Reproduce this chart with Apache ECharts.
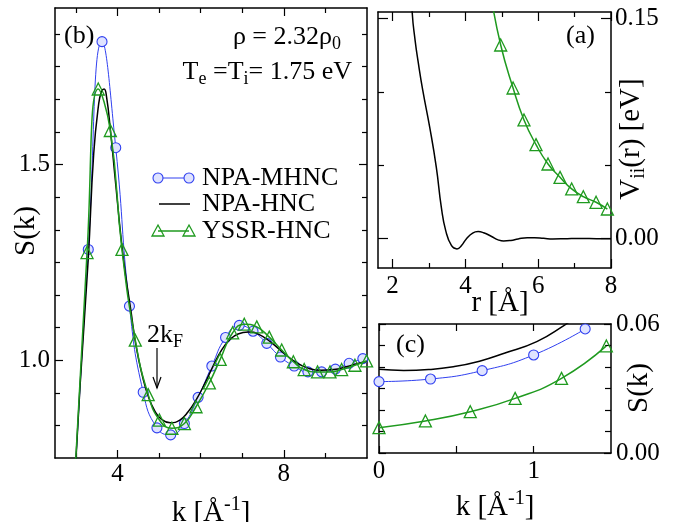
<!DOCTYPE html>
<html><head><meta charset="utf-8">
<script src="https://cdn.jsdelivr.net/npm/echarts@6/dist/echarts.min.js"></script>
<style>html,body{margin:0;padding:0;background:#fff}#c{width:690px;height:522px}</style>
</head><body><div id="c"></div>
<script>
// ---------- Panel (b): S(k) ----------
const kMHNC = [2.97,3.30,3.63,3.96,4.29,4.62,4.95,5.28,5.61,5.94,6.27,6.60,6.93,7.26,7.59,7.92,8.25,8.58,8.91,9.24,9.57,9.90];
const sMHNC = [0.68,1.283,1.814,1.543,1.138,0.918,0.827,0.809,0.838,0.905,0.985,1.058,1.089,1.074,1.043,1.008,0.985,0.970,0.970,0.977,0.992,1.004];
const kHNC = [2.90,3.10,3.30,3.43,3.55,3.62,3.68,3.74,3.83,3.95,4.10,4.20,4.32,4.45,4.60,4.75,4.90,5.05,5.27,5.50,5.70,5.90,6.10,6.30,6.50,6.70,6.90,7.15,7.40,7.70,8.00,8.30,8.60,8.90,9.20,9.50,9.80,10.0];
const sHNC = [0.55,0.93,1.26,1.527,1.655,1.687,1.693,1.672,1.59,1.46,1.30,1.215,1.13,1.035,0.96,0.905,0.87,0.85,0.84,0.847,0.868,0.90,0.94,0.985,1.025,1.052,1.067,1.072,1.066,1.045,1.018,0.994,0.979,0.974,0.976,0.983,0.992,0.997];
const kYSSR = [2.98,3.27,3.54,3.83,4.11,4.43,4.74,5.01,5.31,5.61,5.89,6.21,6.47,6.77,7.05,7.35,7.65,7.95,8.23,8.49,8.81,9.11,9.39,9.71,9.99];
const sYSSR = [0.71,1.275,1.693,1.587,1.283,1.051,0.912,0.847,0.826,0.838,0.881,0.942,1.002,1.070,1.092,1.085,1.059,1.026,0.996,0.976,0.970,0.970,0.976,0.987,0.998];
// ---------- Panel (a): V_ii(r) ----------
const rNPA = [2.48,2.54,2.62,2.70,2.83,3.02,3.20,3.34,3.46,3.62,3.77,3.90,4.03,4.20,4.35,4.50,4.72,4.90,5.05,5.25,5.45,5.70,5.90,6.15,6.40,6.80,7.20,7.60,8.00];
const vNPA = [0.19,0.154,0.135,0.121,0.101,0.076,0.049,0.0213,0.0055,-0.0048,-0.0070,-0.0045,0.0,0.0038,0.0048,0.0040,0.0015,-0.0008,-0.0016,-0.0012,-0.0002,0.0006,0.0006,0.0002,-0.0002,0.0,0.0001,0.0,0.0];
const rYSSR = [4.70,4.97,5.31,5.61,5.94,6.27,6.60,6.92,7.24,7.59,7.90];
const vYSSR = [0.166,0.132,0.1027,0.0809,0.0641,0.0509,0.0418,0.0339,0.0286,0.0248,0.0202];
// ---------- Panel (c): small-k S(k) ----------
const kcHNC = [0,0.16,0.32,0.48,0.65,0.81,1.02,1.20,1.30];
const scHNC = [0.0389,0.0384,0.0388,0.0401,0.0427,0.0464,0.0518,0.0595,0.0645];
const kcMHNC = [0,0.333,0.667,1.0,1.333];
const scMHNC = [0.0332,0.0344,0.0383,0.0456,0.0577];
const kcYSSR = [0,0.30,0.59,0.88,1.18,1.47];
const scYSSR = [0.0118,0.0149,0.0192,0.0254,0.0347,0.0498];
// ---------- Tick labels ----------
const bXTicks = [4,8], bXMinor = [3,5,6,7,9];
const bYTicks = [1.0,1.5], bYMinor = [0.8333,0.9167,1.0833,1.1667,1.25,1.3333,1.4167,1.5833,1.6667,1.75,1.8333];
const aXTicks = [2,4,6,8], aXMinor = [3,5,7];
const aYTicks = [0,0.15], aYMinor = [0.05,0.10];
const cXTicks = [0,1], cXMinor = [0.5];
const cYTicks = [0,0.06], cYMinor = [0.01,0.02,0.03,0.04,0.05];
const seriesNames = ['NPA-MHNC','NPA-HNC','YSSR-HNC'];

const FONT = '"Liberation Serif", "Times New Roman", Times, serif';
const BLUE = '#3040f0', GREEN = '#1f9a1f', BLACK = '#000';
const zip = (a,b) => a.map((v,i)=>[v,b[i]]);

function pair(grid, pos, min, max, majors, minors, showLabel, fmt, margin, majLen, minLen) {
  const common = {type:'value', gridIndex:grid, position:pos, min, max, splitLine:{show:false}, silent:true};
  return [
    Object.assign({}, common, {
      axisLine:{show:true, onZero:false, lineStyle:{color:'#000', width:1.5}},
      axisTick:{show:true, inside:true, length:majLen, customValues:majors, lineStyle:{color:'#000', width:1.2}},
      axisLabel:{show:showLabel, customValues:majors, margin:margin, formatter:fmt, color:'#000', fontFamily:FONT, fontSize:25}
    }),
    Object.assign({}, common, {
      axisLine:{show:false, onZero:false},
      axisTick:{show:true, inside:true, length:minLen, customValues:minors, lineStyle:{color:'#000', width:1.2}},
      axisLabel:{show:false}
    })
  ];
}
const f0 = v => String(Math.round(v));
const f1 = v => v.toFixed(1);
const f2 = v => v.toFixed(2);

const xAxis = [].concat(
  pair(0,'bottom',2.5,10,bXTicks,bXMinor,true,f0,4,8,5),   // 0,1
  pair(0,'top',2.5,10,bXTicks,bXMinor,false,f0,4,8,5),     // 2,3
  pair(1,'bottom',1.6,8,aXTicks,aXMinor,true,f0,6,9,5),    // 4,5
  pair(1,'top',1.6,8,aXTicks,aXMinor,false,f0,6,9,5),      // 6,7
  pair(2,'bottom',0,1.5,cXTicks,cXMinor,true,f0,6,7,7),    // 8,9
  pair(2,'top',0,1.5,cXTicks,cXMinor,false,f0,6,7,7)       // 10,11
);
const yAxis = [].concat(
  pair(0,'left',0.75,1.9,bYTicks,bYMinor,true,f1,5,8,5),       // 0,1
  pair(0,'right',0.75,1.9,bYTicks,bYMinor,false,f1,5,8,5),     // 2,3
  pair(1,'right',-0.02,0.1545,aYTicks,aYMinor,true,f2,4,10,6), // 4,5
  pair(1,'left',-0.02,0.1545,aYTicks,aYMinor,false,f2,4,10,6), // 6,7
  pair(2,'right',0,0.06,cYTicks,cYMinor,true,f2,5,7,6),        // 8,9
  pair(2,'left',0,0.06,cYTicks,cYMinor,false,f2,5,7,6)         // 10,11
);

function circles(name, xi, yi, data, z) {
  return {type:'line', name, xAxisIndex:xi, yAxisIndex:yi, data, smooth:true, symbol:'circle', symbolSize:10, showSymbol:true,
    itemStyle:{color:'#dfe3ff', borderColor:BLUE, borderWidth:1.1}, lineStyle:{color:BLUE, width:1}, z, silent:true};
}
function plain(name, xi, yi, data, z) {
  return {type:'line', name, xAxisIndex:xi, yAxisIndex:yi, data, smooth:true, symbol:'none', showSymbol:false,
    lineStyle:{color:BLACK, width:1.5}, z, silent:true};
}
function tris(name, xi, yi, data, z) {
  return {type:'line', name, xAxisIndex:xi, yAxisIndex:yi, data, smooth:true, symbol:'triangle', symbolSize:12, showSymbol:true,
    itemStyle:{color:'rgba(255,255,255,0)', borderColor:GREEN, borderWidth:1.3}, lineStyle:{color:GREEN, width:1.5}, z, silent:true};
}

const series = [
  circles(seriesNames[0],0,0,zip(kMHNC,sMHNC),2),
  plain(seriesNames[1],0,0,zip(kHNC,sHNC),3),
  tris(seriesNames[2],0,0,zip(kYSSR,sYSSR),4),
  plain(seriesNames[1],4,4,zip(rNPA,vNPA),3),
  tris(seriesNames[2],4,4,zip(rYSSR,vYSSR),4),
  plain(seriesNames[1],8,8,zip(kcHNC,scHNC),3),
  circles(seriesNames[0],8,8,zip(kcMHNC,scMHNC),4),
  tris(seriesNames[2],8,8,zip(kcYSSR,scYSSR),5)
];

const RICH = {
  a:{fontFamily:FONT, fontSize:26, lineHeight:36, fill:'#000', color:'#000'},
  s:{fontFamily:FONT, fontSize:18, lineHeight:18, padding:[15,0,0,0], fill:'#000', color:'#000'},
  A:{fontFamily:FONT, fontSize:29, lineHeight:40, fill:'#000', color:'#000'},
  S:{fontFamily:FONT, fontSize:20, lineHeight:20, padding:[16,0,0,0], fill:'#000', color:'#000'},
  P:{fontFamily:FONT, fontSize:20, lineHeight:20, padding:[0,0,16,0], fill:'#000', color:'#000'}
};
function txt(x, y, text, align, rot, size) {
  return {type:'text', x, y, rotation:rot||0, silent:true, z:100,
    style:{text, fill:'#000', fontFamily:FONT, fontSize:size||26, rich:RICH,
      align:align||'left', verticalAlign:'middle', textAlign:align||'left', textVerticalAlign:'middle'}};
}
function tri(cx, cy) {
  return {type:'polygon', silent:true, z:100, shape:{points:[[cx,cy-6],[cx+6,cy+5],[cx-6,cy+5]]},
    style:{fill:'none', stroke:GREEN, lineWidth:1.3}};
}
const graphic = [
  txt(64,36,'(b)','left'),
  txt(341,37,'{a|ρ = 2.32ρ}{s|0}','right'),
  txt(352,72,'{a|T}{s|e}{a| =T}{s|i}{a|= 1.75 eV}','right'),
  txt(566,36,'(a)','left'),
  txt(396,345,'(c)','left'),
  txt(147,335,'{a|2k}{s|F}','left'),
  {type:'line', silent:true, z:100, shape:{x1:157,y1:348,x2:157,y2:388}, style:{stroke:'#000', lineWidth:1.2}},
  {type:'polyline', silent:true, z:100, shape:{points:[[153,377],[157,388],[161,377]]}, style:{stroke:'#000', fill:'none', lineWidth:1.2}},
  txt(26,231,'S(k)','center',Math.PI/2,29),
  txt(211,513,'{A|k [Å}{P|-1}{A|]}','center'),
  txt(500,303,'r [Å]','center',0,29),
  txt(631,139,'{A|V}{S|ii}{A|(r) [eV]}','center',Math.PI/2),
  txt(639,388,'S(k)','center',Math.PI/2,29),
  txt(495,507,'{A|k [Å}{P|-1}{A|]}','center'),
  // legend
  {type:'line', silent:true, z:100, shape:{x1:158,y1:178,x2:189,y2:178}, style:{stroke:BLUE, lineWidth:1}},
  {type:'circle', silent:true, z:101, shape:{cx:158,cy:178,r:5}, style:{fill:'#dfe3ff', stroke:BLUE, lineWidth:1.1}},
  {type:'circle', silent:true, z:101, shape:{cx:189,cy:178,r:5}, style:{fill:'#dfe3ff', stroke:BLUE, lineWidth:1.1}},
  {type:'line', silent:true, z:100, shape:{x1:159,y1:204,x2:190,y2:204}, style:{stroke:BLACK, lineWidth:1.5}},
  {type:'line', silent:true, z:100, shape:{x1:158,y1:231,x2:189,y2:231}, style:{stroke:GREEN, lineWidth:1.5}},
  tri(158,231), tri(189,231),
  txt(202,178,seriesNames[0],'left'),
  txt(202,204,seriesNames[1],'left'),
  txt(202,231,seriesNames[2],'left')
];

const chart = echarts.init(document.getElementById('c'), null, {renderer:'canvas'});
chart.setOption({
  animation:false,
  backgroundColor:'#fff',
  textStyle:{fontFamily:FONT},
  grid:[
    {left:55, top:8, width:312, height:450, outerBoundsMode:'none', containLabel:false},
    {left:378, top:12, width:233, height:256, outerBoundsMode:'none', containLabel:false},
    {left:379, top:324, width:232, height:129, outerBoundsMode:'none', containLabel:false}
  ],
  xAxis, yAxis, series, graphic
});
</script></body></html>
